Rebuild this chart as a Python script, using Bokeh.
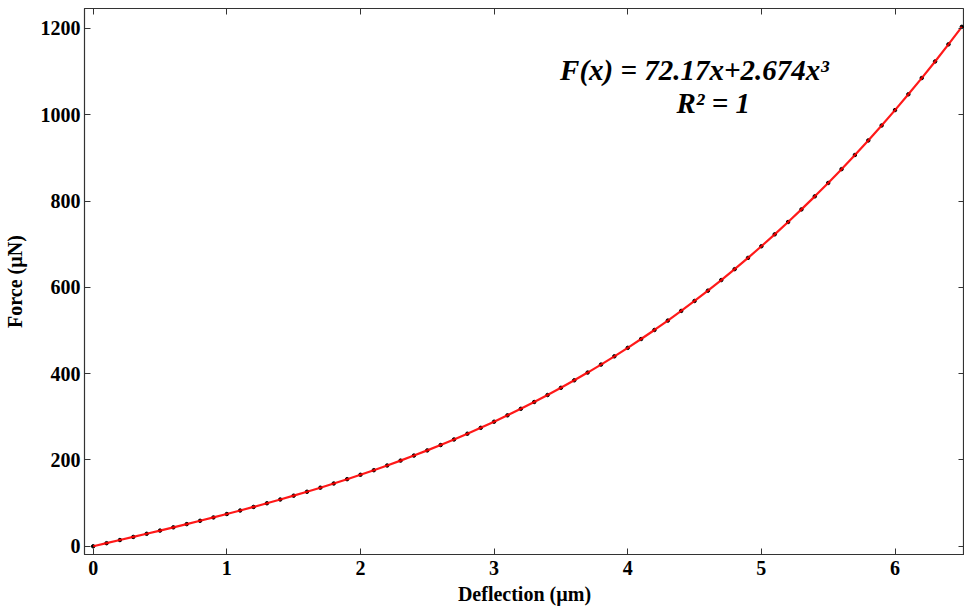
from bokeh.plotting import figure
from bokeh.models import Range1d, LinearAxis, FixedTicker
from bokeh.core.properties import value
from bokeh.embed import file_html
from bokeh.resources import INLINE

deflection = [0.0, 0.1, 0.2, 0.3, 0.4, 0.5, 0.6, 0.7, 0.8, 0.9,
              1.0, 1.1, 1.2, 1.3, 1.4, 1.5, 1.6, 1.7, 1.8, 1.9,
              2.0, 2.1, 2.2, 2.3, 2.4, 2.5, 2.6, 2.7, 2.8, 2.9,
              3.0, 3.1, 3.2, 3.3, 3.4, 3.5, 3.6, 3.7, 3.8, 3.9,
              4.0, 4.1, 4.2, 4.3, 4.4, 4.5, 4.6, 4.7, 4.8, 4.9,
              5.0, 5.1, 5.2, 5.3, 5.4, 5.5, 5.6, 5.7, 5.8, 5.9,
              6.0, 6.1, 6.2, 6.3, 6.4, 6.5]
force = [0.0, 7.2, 14.5, 21.7, 29.0, 36.4, 43.9, 51.4, 59.1, 66.9,
         74.8, 82.9, 91.2, 99.7, 108.4, 117.3, 126.4, 135.8, 145.5, 155.5,
         165.7, 176.3, 187.2, 198.5, 210.2, 222.2, 234.6, 247.5, 260.8, 274.5,
         288.7, 303.4, 318.6, 334.3, 350.5, 367.2, 384.6, 402.5, 421.0, 440.1,
         459.8, 480.2, 501.2, 522.9, 545.3, 568.4, 592.3, 616.8, 642.1, 668.2,
         695.1, 722.8, 751.3, 780.6, 810.8, 841.8, 873.8, 906.6, 940.3, 975.0,
         1010.6, 1047.2, 1084.8, 1123.3, 1162.9, 1203.5]
x_ticks = [0, 1, 2, 3, 4, 5, 6]
y_ticks = [0, 200, 400, 600, 800, 1000, 1200]
eq_line1 = "F(x) = 72.17x+2.674x³"
eq_line2 = "R² = 1"

FONT = "Liberation Serif"

p = figure(width=964, height=609, output_backend="svg", toolbar_location=None,
           x_range=Range1d(-0.065, 6.52), y_range=Range1d(-19, 1246),
           min_border_left=78, min_border_top=8, min_border_right=0, min_border_bottom=55)
p.xgrid.visible = False
p.ygrid.visible = False
p.outline_line_color = "#333333"
p.outline_line_width = 1.2

for ax in (p.xaxis[0], p.yaxis[0]):
    ax.major_label_text_font = FONT
    ax.major_label_text_font_style = "bold"
    ax.major_label_text_font_size = "20px"
    ax.major_label_text_color = "black"
    ax.axis_label_text_font = FONT
    ax.axis_label_text_font_style = "bold"
    ax.axis_label_text_font_size = "20px"
    ax.axis_label_text_color = "black"
    ax.major_tick_in = 6
    ax.major_tick_out = 0
    ax.minor_tick_line_color = None
    ax.axis_line_color = "#333333"
    ax.major_tick_line_color = "#333333"

p.xaxis[0].ticker = FixedTicker(ticks=x_ticks)
p.yaxis[0].ticker = FixedTicker(ticks=y_ticks)
p.xaxis[0].axis_label = "Deflection (µm)"
p.yaxis[0].axis_label = "Force (µN)"
p.xaxis[0].axis_label_standoff = 5
p.yaxis[0].axis_label_standoff = 12
p.xaxis[0].major_label_standoff = 6
p.yaxis[0].major_label_standoff = 4

top = LinearAxis(ticker=FixedTicker(ticks=x_ticks), major_label_text_font_size="0px",
                 major_tick_in=6, major_tick_out=0, minor_tick_line_color=None,
                 axis_line_color=None, major_label_text_color=None, major_tick_line_color="#333333")
right = LinearAxis(ticker=FixedTicker(ticks=y_ticks), major_label_text_font_size="0px",
                   major_tick_in=6, major_tick_out=0, minor_tick_line_color=None,
                   axis_line_color=None, major_label_text_color=None, major_tick_line_color="#333333")
p.add_layout(top, "above")
p.add_layout(right, "right")

p.scatter(deflection, force, size=3.5, color="black", marker="circle")
p.line(deflection, force, line_color="red", line_width=2.2, line_alpha=0.9)

p.text(x=[4.5], y=[1103], text=[eq_line1], text_font=value(FONT), text_font_style="bold italic",
       text_font_size="29px", text_align="center", text_baseline="middle", text_color="black")
p.text(x=[4.64], y=[1027], text=[eq_line2], text_font=value(FONT), text_font_style="bold italic",
       text_font_size="29px", text_align="center", text_baseline="middle", text_color="black")

open("out.html", "w").write(file_html(p, INLINE))
